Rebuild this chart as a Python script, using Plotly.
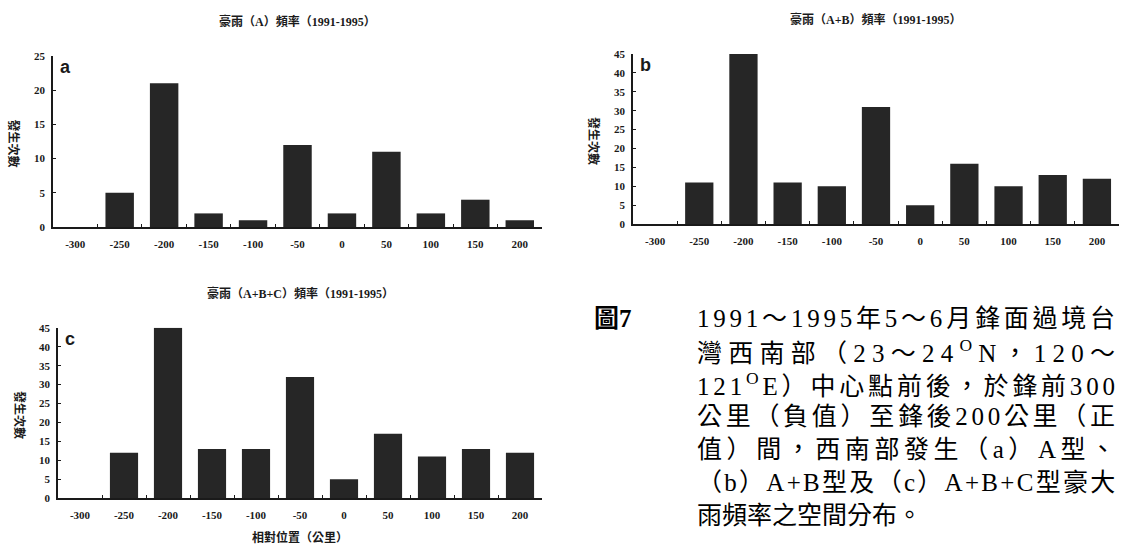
import plotly.graph_objects as go

W, H = 1125, 553

# Relative position to the front (km) and heavy-rain counts, 1991-1995
positions = ["-300", "-250", "-200", "-150", "-100", "-50", "0", "50", "100", "150", "200"]
count_a = [0, 5, 21, 2, 1, 12, 2, 11, 2, 4, 1]
count_ab = [0, 11, 45, 11, 10, 31, 5, 16, 10, 13, 12]
count_abc = [0, 12, 45, 13, 13, 32, 5, 17, 11, 13, 12]

titles = ["豪雨（A）頻率（1991-1995）", "豪雨（A+B）頻率（1991-1995）", "豪雨（A+B+C）頻率（1991-1995）"]
panel_tags = ["a", "b", "c"]
y_title = "發生次數"
x_title = "相對位置（公里）"
fig_no = "圖7"
caption_lines = [
    "1991～1995年5～6月鋒面過境台",
    "灣西南部（23～24<sup>O</sup>N，120～",
    "121<sup>O</sup>E）中心點前後，於鋒前300",
    "公里（負值）至鋒後200公里（正",
    "值）間，西南部發生（a）A型、",
    "（b）A+B型及（c）A+B+C型豪大",
    "雨頻率之空間分布。",
]

BAR = "#262626"
INK = "#1a1a1a"
SERIF = "Liberation Serif"
MIXED = "Liberation Serif, Noto Sans CJK TC"
CJK = "Noto Sans CJK TC"


def px(x):
    return x / W


def py(y):
    return 1 - y / H


# panel boxes in pixels: (left, right, top, bottom, ymax)
panels = [
    (53, 542, 51, 226, 25),
    (633, 1119, 49, 223, 45),
    (58, 542, 329, 503, 45),
]
series = [count_a, count_ab, count_abc]

fig = go.Figure()
layout = dict(
    width=W, height=H,
    margin=dict(l=0, r=0, t=0, b=0),
    paper_bgcolor="white", plot_bgcolor="white",
    showlegend=False, bargap=0.36,
    font=dict(family=SERIF, color=INK),
)
annotations = []

for i, ((l, r, t, b, ymax), vals) in enumerate(zip(panels, series)):
    xa = "x" if i == 0 else f"x{i + 1}"
    ya = "y" if i == 0 else f"y{i + 1}"
    fig.add_trace(go.Bar(x=positions, y=vals, marker=dict(color=BAR, line=dict(width=0)),
                         xaxis=xa, yaxis=ya))
    xkey = "xaxis" if i == 0 else f"xaxis{i + 1}"
    ykey = "yaxis" if i == 0 else f"yaxis{i + 1}"
    layout[xkey] = dict(
        domain=[px(l), px(r)], anchor=ya, type="category",
        range=[-0.5, 10.5], showgrid=False, zeroline=False,
        showline=True, linecolor=INK, linewidth=1.5,
        ticks="inside", ticklen=3, tickcolor=INK, tickson="boundaries",
        tickfont=dict(family=SERIF, size=11, color=INK, weight="bold"),
        ticklabelstandoff=6, fixedrange=True,
    )
    layout[ykey] = dict(
        domain=[py(b), py(t)], anchor=xa, range=[0, ymax], dtick=5,
        showgrid=False, zeroline=False,
        showline=True, linecolor=INK, linewidth=1.5,
        ticks="inside", ticklen=3, tickcolor=INK,
        tickfont=dict(family=SERIF, size=11, color=INK, weight="bold"),
        ticklabelstandoff=4, fixedrange=True,
    )
    # panel title
    annotations.append(dict(
        text=titles[i], x=px((l + r) / 2), y=py(t - 35), xref="paper", yref="paper",
        xanchor="center", yanchor="middle", showarrow=False,
        font=dict(family=MIXED, size=12, color=INK, weight="bold"),
    ))
    # panel tag
    annotations.append(dict(
        text=panel_tags[i], x=px(l + 5), y=py(t + 11), xref="paper", yref="paper",
        xanchor="left", yanchor="middle", showarrow=False,
        font=dict(family="Liberation Sans", size=18, color=INK, weight="bold"),
    ))
    # vertical y-axis title
    annotations.append(dict(
        text=y_title, x=px(l - 38), y=py((t + b) / 2 + 2), xref="paper", yref="paper",
        xanchor="center", yanchor="middle", showarrow=False, textangle=90,
        font=dict(family=CJK, size=12, color=INK, weight="bold"),
    ))

# x-axis title under panel c
annotations.append(dict(
    text=x_title, x=px(300), y=py(542), xref="paper", yref="paper",
    xanchor="center", yanchor="middle", showarrow=False,
    font=dict(family=CJK, size=12, color=INK, weight="bold"),
))

# figure caption, justified lines
CAP_FS = 25
CAP_LEFT = 695
CAP_WIDTH = 418
CAP_TOP = 319
CAP_STEP = 33.6

# approximate advance widths (em) of the Latin glyphs used in the caption
LATIN_EM = {"A": 0.72, "B": 0.67, "C": 0.67, "E": 0.61, "N": 0.72, "O": 0.72,
            "a": 0.44, "b": 0.5, "c": 0.44, "+": 0.56}


def plain(s):
    out, skip = [], False
    for ch in s:
        if ch == "<":
            skip = True
        elif ch == ">":
            skip = False
        elif not skip:
            out.append(ch)
    return "".join(out)


def natural_width(s):
    w = 0.0
    for ch in plain(s):
        if ord(ch) > 0x2000:
            w += CAP_FS
        else:
            em = LATIN_EM.get(ch, 0.5)
            if ch == "O":
                em *= 0.7
            w += CAP_FS * em
    return w


annotations.append(dict(
    text=fig_no, x=px(592), y=py(CAP_TOP), xref="paper", yref="paper",
    xanchor="left", yanchor="middle", showarrow=False,
    font=dict(family=MIXED, size=CAP_FS, color="black", weight="bold"),
))
for k, line in enumerate(caption_lines):
    n = len(plain(line))
    if k < len(caption_lines) - 1:
        gap = max(0.0, (CAP_WIDTH - natural_width(line)) / (n - 1))
    else:
        gap = 0.0
    annotations.append(dict(
        text=f'<span style="letter-spacing:{gap:.2f}px">{line}</span>',
        x=px(CAP_LEFT), y=py(CAP_TOP + k * CAP_STEP), xref="paper", yref="paper",
        xanchor="left", yanchor="middle", showarrow=False,
        font=dict(family=MIXED, size=CAP_FS, color="black"),
    ))

layout["annotations"] = annotations
fig.update_layout(**layout)
fig.write_html("out.html")
